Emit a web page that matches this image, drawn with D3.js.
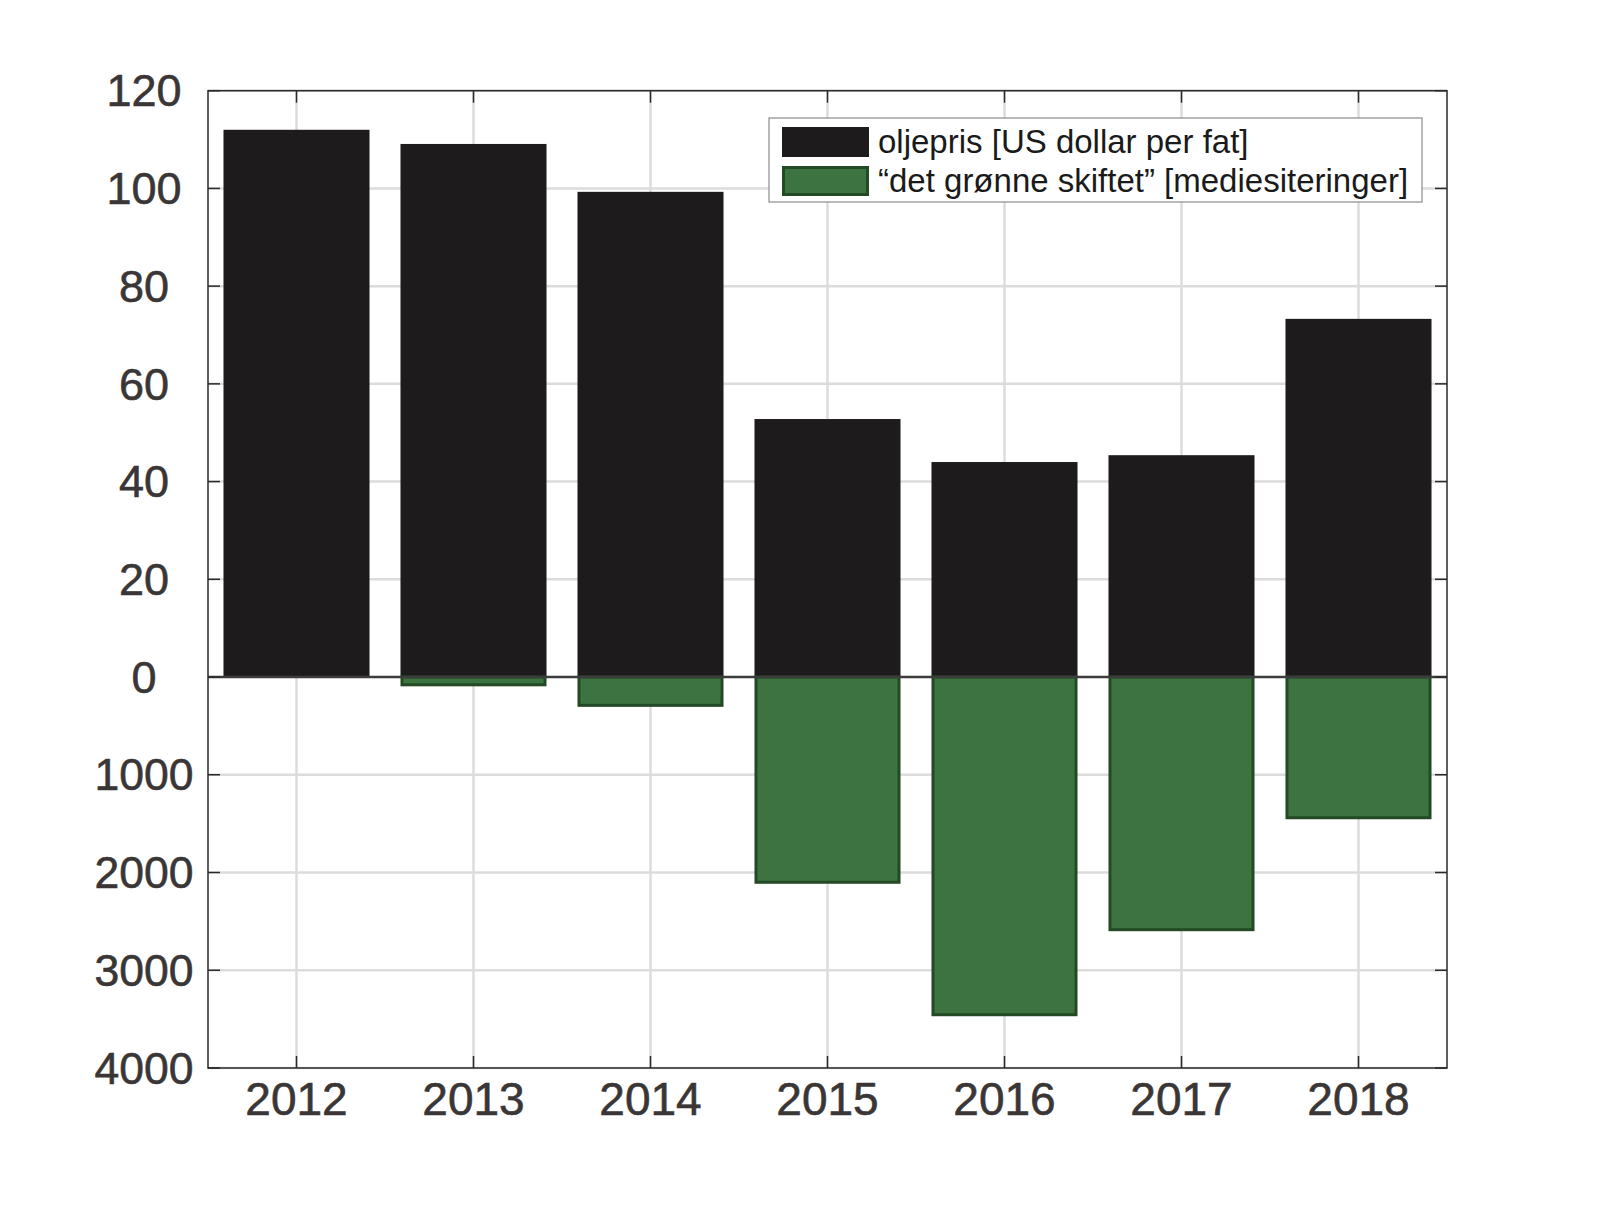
<!DOCTYPE html>
<html>
<head>
<meta charset="utf-8">
<script src="https://cdn.jsdelivr.net/npm/d3@7"></script>
<style>
  html, body { margin: 0; padding: 0; background: #ffffff; }
  svg { display: block; font-family: "Liberation Sans", Arial, sans-serif; }
</style>
</head>
<body>
<div id="chart"></div>
<script>
// Data
const years = ["2012", "2013", "2014", "2015", "2016", "2017", "2018"];
const oilPrice = [112.0, 109.1, 99.3, 52.8, 44.0, 45.4, 73.3];      // US dollar per fat
const greenShift = [0, 80, 290, 2100, 3455, 2585, 1440];             // mediesiteringer (drawn downward)
const upperTicks = [0, 20, 40, 60, 80, 100, 120];
const lowerTicks = [1000, 2000, 3000, 4000];
const legendLabels = ["oljepris [US dollar per fat]", "\u201cdet gr\u00f8nne skiftet\u201d [mediesiteringer]"];

const width = 1603;
const height = 1217;
const plot = { left: 208, right: 1447, top: 90.7, zero: 677, bottom: 1068 };

const blackFill = "#1e1b1c";
const greenFill = "#3d7340";
const greenStroke = "#234a24";
const gridColor = "#dcdcdc";
const axisColor = "#2a2a2a";
const textColor = "#3a3636";

const svg = d3.select("#chart")
  .append("svg")
  .attr("width", width)
  .attr("height", height);

const x = d3.scalePoint()
  .domain(years)
  .range([plot.left, plot.right])
  .padding(0.5);
const barWidth = x.step() * 0.825;

const yUp = d3.scaleLinear().domain([0, 120]).range([plot.zero, plot.top]);
const yDown = d3.scaleLinear().domain([0, 4000]).range([plot.zero, plot.bottom]);

// Grid
const grid = svg.append("g");
grid.selectAll("line.vgrid")
  .data(years)
  .join("line")
  .attr("x1", (d) => x(d)).attr("x2", (d) => x(d))
  .attr("y1", plot.top).attr("y2", plot.bottom)
  .attr("stroke", gridColor).attr("stroke-width", 2.5);
grid.selectAll("line.hup")
  .data(upperTicks.slice(1))
  .join("line")
  .attr("x1", plot.left).attr("x2", plot.right)
  .attr("y1", (d) => yUp(d)).attr("y2", (d) => yUp(d))
  .attr("stroke", gridColor).attr("stroke-width", 2.5);
grid.selectAll("line.hdown")
  .data(lowerTicks)
  .join("line")
  .attr("class", "hdown")
  .attr("x1", plot.left).attr("x2", plot.right)
  .attr("y1", (d) => yDown(d)).attr("y2", (d) => yDown(d))
  .attr("stroke", gridColor).attr("stroke-width", 2.5);

// Bars
svg.append("g")
  .selectAll("rect")
  .data(years.map((y, i) => ({ year: y, v: oilPrice[i] })))
  .join("rect")
  .attr("x", (d) => x(d.year) - barWidth / 2)
  .attr("width", barWidth)
  .attr("y", (d) => yUp(d.v))
  .attr("height", (d) => yUp(0) - yUp(d.v))
  .attr("fill", blackFill);

svg.append("g")
  .selectAll("rect")
  .data(years.map((y, i) => ({ year: y, v: greenShift[i] })).filter((d) => d.v > 0))
  .join("rect")
  .attr("x", (d) => x(d.year) - barWidth / 2 + 1.5)
  .attr("width", barWidth - 3)
  .attr("y", yDown(0))
  .attr("height", (d) => yDown(d.v) - yDown(0))
  .attr("fill", greenFill)
  .attr("stroke", greenStroke)
  .attr("stroke-width", 3);

// Zero line
svg.append("line")
  .attr("x1", plot.left).attr("x2", plot.right)
  .attr("y1", yUp(0)).attr("y2", yUp(0))
  .attr("stroke", "#3c3c3c").attr("stroke-width", 2.5);

// Box
svg.append("rect")
  .attr("x", plot.left).attr("y", plot.top)
  .attr("width", plot.right - plot.left)
  .attr("height", plot.bottom - plot.top)
  .attr("fill", "none")
  .attr("stroke", axisColor)
  .attr("stroke-width", 1.5);

// Inward ticks on all sides
const tickLen = 12;
const ticks = svg.append("g").attr("stroke", axisColor).attr("stroke-width", 1.5);
years.forEach((d) => {
  ticks.append("line").attr("x1", x(d)).attr("x2", x(d))
    .attr("y1", plot.bottom).attr("y2", plot.bottom - tickLen);
  ticks.append("line").attr("x1", x(d)).attr("x2", x(d))
    .attr("y1", plot.top).attr("y2", plot.top + tickLen);
});
const yPositions = upperTicks.map((d) => yUp(d)).concat(lowerTicks.map((d) => yDown(d)));
yPositions.forEach((yy) => {
  ticks.append("line").attr("x1", plot.left).attr("x2", plot.left + tickLen)
    .attr("y1", yy).attr("y2", yy);
  ticks.append("line").attr("x1", plot.right).attr("x2", plot.right - tickLen)
    .attr("y1", yy).attr("y2", yy);
});

// Tick labels
const labels = svg.append("g")
  .attr("fill", textColor)
  .attr("stroke", textColor)
  .attr("stroke-width", 0.6)
  .attr("text-anchor", "middle");
labels.selectAll("text.yu")
  .data(upperTicks)
  .join("text")
  .attr("x", 144)
  .attr("y", (d) => yUp(d))
  .attr("dy", "0.35em")
  .attr("font-size", 45)
  .text((d) => d);
labels.selectAll("text.yd")
  .data(lowerTicks)
  .join("text")
  .attr("class", "yd")
  .attr("x", 144)
  .attr("y", (d) => yDown(d))
  .attr("dy", "0.35em")
  .attr("font-size", 44.5)
  .text((d) => d);
labels.selectAll("text.xl")
  .data(years)
  .join("text")
  .attr("class", "xl")
  .attr("x", (d) => x(d))
  .attr("y", 1115)
  .attr("font-size", 46)
  .text((d) => d);

// Legend
const legend = svg.append("g");
legend.append("rect")
  .attr("x", 769).attr("y", 118)
  .attr("width", 653).attr("height", 84)
  .attr("fill", "#ffffff")
  .attr("stroke", "#8c8c8c")
  .attr("stroke-width", 1.2);
const legendColors = [[blackFill, blackFill], [greenFill, greenStroke]];
legendLabels.forEach((lab, i) => {
  const ly = 127 + i * 39;
  legend.append("rect")
    .attr("x", 783.5).attr("y", ly + 1.5)
    .attr("width", 84).attr("height", 27)
    .attr("fill", legendColors[i][0])
    .attr("stroke", legendColors[i][1])
    .attr("stroke-width", 3);
  legend.append("text")
    .attr("x", 878)
    .attr("y", ly + 14)
    .attr("dy", "0.35em")
    .attr("font-size", 33)
    .attr("fill", "#1a1a1a")
    .text(lab);
});
</script>
</body>
</html>
